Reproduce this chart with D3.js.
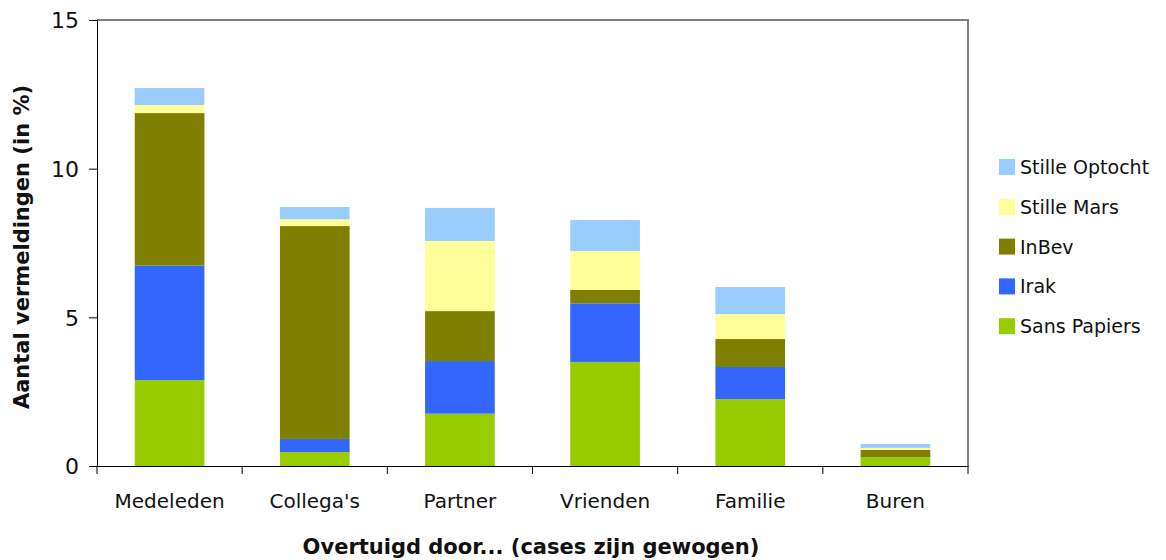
<!DOCTYPE html>
<html><head><meta charset="utf-8">
<script src="https://cdn.jsdelivr.net/npm/d3@7"></script>
<style>body{margin:0;background:#fff}svg text{font-family:"DejaVu Sans",sans-serif;fill:#111}</style>
</head><body><svg id="c" width="1166" height="560"></svg>
<script>
const categories = ["Medeleden","Collega's","Partner","Vrienden","Familie","Buren"];
const seriesNames = ["Sans Papiers","Irak","InBev","Stille Mars","Stille Optocht"];
const sansPapiers   = [2.89, 0.47, 1.76, 3.50, 2.25, 0.30];
const irak          = [3.85, 0.44, 1.77, 1.97, 1.08, 0.00];
const inBev         = [5.13, 7.16, 1.68, 0.45, 0.94, 0.24];
const stilleMars    = [0.27, 0.23, 2.36, 1.31, 0.84, 0.07];
const stilleOptocht = [0.57, 0.41, 1.11, 1.04, 0.91, 0.13];
const colors = ["#99cc00","#3366ff","#808000","#ffff99","#99ccff"];
const yTicks = [0,5,10,15];

const seriesVals = [sansPapiers, irak, inBev, stilleMars, stilleOptocht];
const rows = categories.map((c,i)=>{const r={cat:c}; seriesNames.forEach((s,j)=>r[s]=seriesVals[j][i]); return r;});
const stacked = d3.stack().keys(seriesNames)(rows);

const svg = d3.select("#c");
const m = {l:97, r:968, t:20, b:466};
const x = d3.scaleBand().domain(categories).range([m.l,m.r]).paddingInner(0.52).paddingOuter(0.26);
const y = d3.scaleLinear().domain([0,15]).range([m.b,m.t]);

svg.append("path").attr("d",`M${m.l},${m.t}H${m.r}V${m.b}`).attr("fill","none").attr("stroke","#808080").attr("stroke-width",2);

svg.append("g").selectAll("g").data(stacked).join("g").attr("fill",(d,i)=>colors[i])
  .selectAll("rect").data(d=>d).join("rect")
  .attr("x",d=>x(d.data.cat)).attr("width",x.bandwidth())
  .attr("y",d=>y(d[1])).attr("height",d=>y(d[0])-y(d[1]));

const ya = svg.append("g").attr("transform",`translate(${m.l},0)`)
  .call(d3.axisLeft(y).tickValues(yTicks).tickSize(8).tickPadding(10));
ya.select(".domain").attr("stroke","#000");
ya.selectAll("text").style("font-size","22px").attr("dy","0.36em");

const xa = svg.append("g").attr("transform",`translate(0,${m.b})`)
  .call(d3.axisBottom(x).tickSize(0).tickPadding(28));
xa.select(".domain").attr("stroke","#000");
xa.selectAll("text").style("font-size","20px");
const bounds = d3.range(categories.length+1).map(i=>m.l + i*(m.r-m.l)/categories.length);
xa.selectAll(".bt").data(bounds).join("line").attr("class","bt")
  .attr("x1",d=>d).attr("x2",d=>d).attr("y1",0).attr("y2",8).attr("stroke","#000");

svg.append("text").attr("x",531).attr("y",554).attr("text-anchor","middle")
  .style("font-size","21px").style("font-weight","bold").text("Overtuigd door... (cases zijn gewogen)");
svg.append("text").attr("transform",`translate(29,${(m.t+m.b)/2+4}) rotate(-90)`).attr("text-anchor","middle")
  .style("font-size","21px").style("font-weight","bold").text("Aantal vermeldingen (in %)");

const legOrder = seriesNames.map((s,i)=>({s,c:colors[i]})).reverse();
const lg = svg.append("g").selectAll("g").data(legOrder).join("g")
  .attr("transform",(d,i)=>`translate(999,${167+i*39.8})`);
lg.append("rect").attr("x",0).attr("y",-8).attr("width",16).attr("height",16).attr("fill",d=>d.c);
lg.append("text").attr("x",21).attr("y",7).style("font-size","19px").text(d=>d.s);
</script></body></html>
